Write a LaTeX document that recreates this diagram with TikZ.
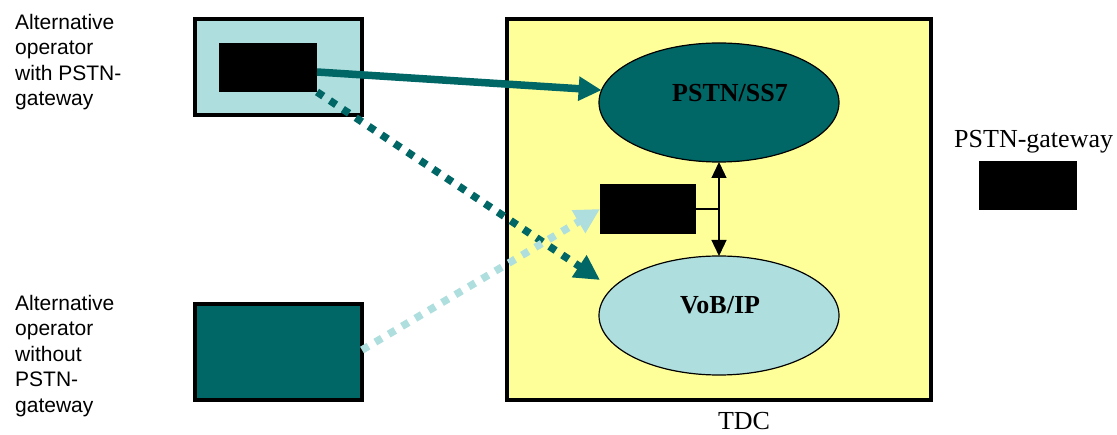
\documentclass[tikz,border=0pt]{standalone}
\usepackage{fontspec}
\setmainfont{Liberation Serif}
\newfontfamily\arialfont{Liberation Sans}
\usetikzlibrary{arrows.meta,shapes.geometric}
\definecolor{darkteal}{HTML}{006666}
\definecolor{paleteal}{HTML}{AEDEDE}
\definecolor{paleyellow}{HTML}{FFFF99}
\begin{document}
\begin{tikzpicture}[x=1pt,y=-1pt,
  frame/.style={rectangle,draw=black,line width=4pt,inner sep=0pt,outer sep=0pt},
  blackbox/.style={rectangle,fill=black,inner sep=0pt,outer sep=0pt,
    minimum width=98pt,minimum height=49pt},
  cloud/.style={ellipse,draw=black,line width=1.2pt,inner sep=0pt,outer sep=0pt,
    minimum width=240pt,minimum height=119pt},
  sidetext/.style={font=\arialfont\fontsize{21}{25.5}\selectfont,align=left,
    inner sep=0pt,anchor=north west},
  serif/.style={font=\fontsize{26}{30}\selectfont,inner sep=0pt},
  cloudtext/.style={font=\bfseries\fontsize{26}{30}\selectfont,inner sep=0pt,anchor=base},
  flow/.style={draw=darkteal,line width=7.5pt,-{Triangle[length=23pt,width=23pt]}},
  dotflow/.style={line width=7.5pt,dash pattern=on 7.5pt off 8pt,
    -{Triangle[length=25pt,width=25pt]}},
  link/.style={draw=black,line width=1.3pt},
]
\useasboundingbox (0,0) rectangle (1117,435);

% TDC network domain
\node[frame,fill=paleyellow,minimum width=424pt,minimum height=381pt] (tdc) at (719,209.5) {};
\node[serif,anchor=base] (tdclbl) at (744,430) {TDC};

% core networks inside TDC
\node[cloud,fill=darkteal] (pstn) at (719,102.5) {};
\node[cloudtext] (pstnlbl) at (730,102) {PSTN/SS7};
\node[cloud,fill=paleteal] (vob) at (719,315.5) {};
\node[cloudtext] (voblbl) at (720,314) {VoB/IP};

% TDC gateway between the two networks
\node[blackbox,minimum width=96pt,minimum height=50pt] (gw) at (648,209) {};
\coordinate (tap) at (gw.east -| pstn.south);
\draw[link] (gw.east) -- (tap);
\draw[link,{Triangle[length=16pt,width=15pt]}-{Triangle[length=16pt,width=15pt]}]
  (pstn.south) -- (vob.north);

% alternative operators
\node[frame,fill=paleteal,minimum width=167pt,minimum height=96pt] (opA) at (278.5,67) {};
\node[blackbox] (opAgw) at (268,67.5) {};
\node[frame,fill=darkteal,minimum width=167pt,minimum height=96pt] (opB) at (278.5,352) {};

\node[sidetext] (opAtxt) at (15,14) {Alternative\\operator\\with PSTN-\\gateway};
\node[sidetext] (opBtxt) at (15,295) {Alternative\\operator\\without\\PSTN-\\gateway};

% legend
\node[serif,anchor=base west] (legtxt) at (954,148) {PSTN-gateway};
\node[blackbox] (leg) at (1028,185.5) {};

% traffic paths
\coordinate (ipend) at (600,280);
\draw[flow] ([yshift=-4.5pt]opAgw.east) -- (pstn.174);
\draw[dotflow,draw=darkteal] (opAgw.south east) -- (ipend);
\draw[dotflow,draw=paleteal] ([yshift=2pt]opB.east) -- (gw.west);
\end{tikzpicture}
\end{document}
